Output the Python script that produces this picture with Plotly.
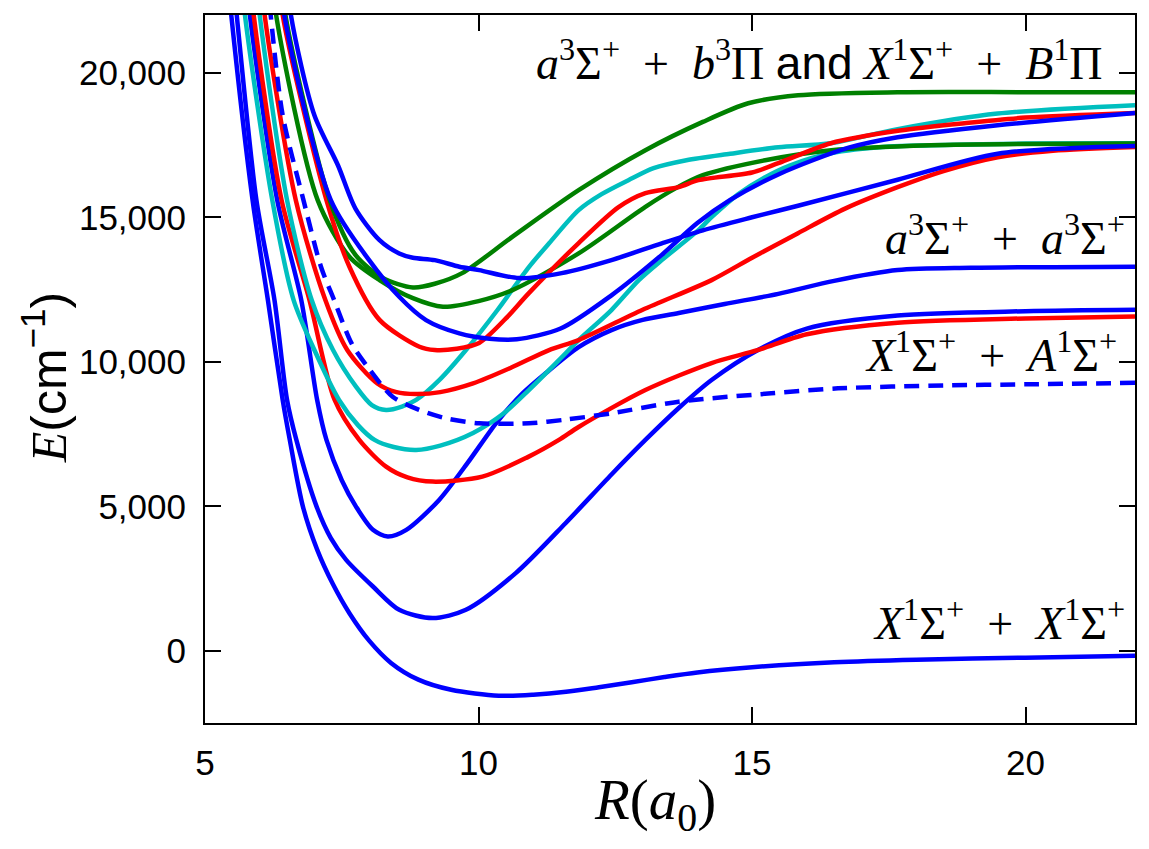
import plotly.graph_objects as go

# ---------------- data (R in a0, E in cm^-1) ----------------
# X1S+ + X1S+ ground curve (blue)
A_R = [5.38, 5.48, 5.87, 6.15, 6.42, 6.55, 6.79, 7.05, 7.34, 7.64, 8.0, 8.4, 8.9, 9.5, 10.37, 11.0, 11.6, 12.2, 12.8, 13.4, 14.0, 15.0, 16.5, 18.0, 20.0, 22.0]
A_E = [24000, 22000, 15593, 12135, 8678, 7295, 4988, 3500, 2300, 1300, 350, -420, -1000, -1350, -1556, -1520, -1420, -1260, -1090, -910, -750, -570, -400, -310, -240, -175]

# blue, minimum ~1100
B_R = [5.48, 5.58, 5.94, 6.27, 6.5, 6.67, 7.04, 7.3, 7.58, 8.07, 8.55, 9.16, 9.77, 10.68, 11.59, 12.43, 13.05, 13.66, 14.26, 15.1, 16.0, 17.66, 20.0, 22.0]
B_E = [24000, 22000, 15593, 12135, 8678, 7295, 4988, 3900, 3146, 2223, 1417, 1130, 1417, 2686, 4414, 6100, 7295, 8400, 9369, 10400, 11150, 11600, 11750, 11800]

# blue, minimum ~4000
C_R = [5.72, 5.82, 6.32, 6.76, 7.05, 7.22, 7.5, 7.76, 8.07, 8.34, 8.68, 9.28, 9.8, 10.32, 10.8, 11.23, 11.83, 12.43, 13.0, 13.66, 14.5, 15.48, 16.5, 17.66, 19.0, 22.0]
C_E = [24000, 22000, 15593, 12135, 8678, 7295, 5900, 4988, 4183, 3952, 4183, 5220, 6500, 7871, 8900, 9611, 10510, 11098, 11450, 11685, 12000, 12350, 12800, 13172, 13250, 13290]

# red, minimum ~5850
D_R = [5.79, 5.89, 6.40, 6.91, 7.37, 7.82, 8.31, 8.7, 9.16, 10.07, 10.9, 11.47, 11.83, 13.05, 14.26, 15.1, 16.0, 17.66, 20.0, 22.0]
D_E = [24000, 22000, 15593, 12135, 8678, 7295, 6371, 6000, 5853, 6026, 6700, 7295, 7744, 9023, 9957, 10400, 10950, 11350, 11500, 11570]

# cyan, minimum ~6950
F_R = [5.63, 5.73, 6.23, 6.62, 7.0, 7.45, 7.8, 8.1, 8.45, 8.86, 9.3, 9.9, 10.45, 10.92, 11.47, 11.83, 12.43, 12.93, 13.35, 14.02, 14.26, 14.75, 15.24, 15.7, 16.44, 17.5, 18.27, 20.0, 22.0]
F_E = [24000, 22000, 15593, 12135, 10406, 8678, 7800, 7295, 7050, 6950, 7100, 7537, 8200, 9023, 10060, 10752, 11790, 12826, 13518, 14555, 15005, 15800, 16388, 16800, 17217, 17450, 17494, 17550, 17565]

# cyan, minimum ~8330
G_R = [5.9, 6.0, 6.5, 6.95, 7.34, 7.76, 8.05, 8.31, 8.6, 8.86, 9.3, 9.77, 10.35, 10.92, 11.29, 11.83, 12.25, 12.74, 13.2, 13.8, 14.6, 15.48, 16.44, 17.66, 19.49, 22.0]
G_E = [24000, 22000, 15593, 12135, 10406, 9137, 8500, 8333, 8450, 8678, 9400, 10406, 11800, 13276, 14100, 15247, 15800, 16284, 16700, 16975, 17200, 17424, 17563, 18050, 18589, 18880]

# red, minimum ~8880
H_R = [5.99, 6.09, 6.66, 7.2, 7.6, 8.15, 8.5, 8.86, 9.3, 9.9, 10.6, 11.29, 11.83, 13.0, 14.26, 15.0, 15.84, 16.7, 17.66, 18.5, 19.49, 20.5, 22.0]
H_E = [24000, 22000, 15593, 12135, 10406, 9250, 8950, 8885, 8950, 9250, 9800, 10406, 10752, 11800, 12826, 13600, 14451, 15300, 16042, 16600, 17079, 17300, 17430]

# dashed blue, minimum ~7870
I_R = [6.1, 6.2, 6.42, 6.80, 7.12, 7.36, 7.68, 7.97, 8.43, 8.92, 9.40, 10.01, 10.92, 11.6, 12.43, 13.66, 15.35, 16.57, 18.5, 20.0, 22.0]
I_E = [24000, 22000, 18531, 15593, 13288, 12135, 10637, 9829, 8792, 8333, 8045, 7871, 7871, 8000, 8218, 8620, 8908, 9080, 9180, 9220, 9270]

# green, minimum ~11900
J_R = [6.2, 6.3, 7.06, 7.64, 8.19, 8.8, 9.35, 10.0, 10.62, 11.83, 13.05, 13.6, 14.1, 15.24, 16.45, 18.27, 20.0, 22.0]
J_E = [24000, 22000, 15593, 13634, 12826, 12200, 11904, 12100, 12480, 13749, 15361, 16000, 16457, 16975, 17321, 17494, 17540, 17550]

# red, minimum ~10400
K_R = [6.32, 6.42, 7.22, 7.64, 8.19, 8.92, 9.2, 9.6, 10.01, 10.5, 10.92, 11.83, 12.56, 13.05, 13.66, 14.02, 15.0, 15.48, 16.44, 17.7, 18.88, 20.0, 22.0]
K_E = [24000, 22000, 15593, 13288, 11450, 10521, 10406, 10450, 10648, 11500, 12377, 14106, 15350, 15834, 16042, 16284, 16550, 16872, 17563, 18000, 18254, 18450, 18610]

# green, minimum ~12580
L_R = [6.37, 6.47, 7.28, 7.75, 8.25, 8.8, 9.2, 9.70, 10.61, 11.83, 13.05, 14.1, 14.93, 15.84, 17.66, 20.0, 22.0]
L_E = [24000, 22000, 15593, 13700, 12900, 12574, 12700, 13068, 14313, 15938, 17321, 18300, 18946, 19222, 19326, 19330, 19330]

# blue, minimum ~10780
E_R = [6.35, 6.45, 7.3, 8.0, 8.55, 9.04, 9.65, 10.2, 10.7, 11.5, 12.43, 13.35, 14.0, 14.6, 15.5, 16.75, 17.66, 19.49, 22.0]
E_E = [24000, 22000, 15593, 13516, 12249, 11443, 10983, 10800, 10780, 11150, 12300, 13700, 14800, 15600, 16500, 17400, 17770, 18185, 18610]

# blue, minimum ~12900 with shoulder
M_R = [6.47, 6.57, 7.0, 7.43, 7.75, 8.19, 8.55, 8.8, 9.2, 9.65, 10.01, 10.74, 11.52, 12.43, 13.35, 14.1, 15.0, 15.84, 17.66, 19.49, 22.0]
M_E = [24000, 22000, 18531, 16800, 15300, 14209, 13749, 13600, 13518, 13288, 13172, 12895, 13068, 13518, 14100, 14550, 15000, 15400, 16300, 17200, 17470]

BLUE, RED, GREEN, CYAN = "#0000ff", "#ff0000", "#008000", "#00bfbf"

curves = [
    (A_R, A_E, BLUE, "solid"),
    (B_R, B_E, BLUE, "solid"),
    (C_R, C_E, BLUE, "solid"),
    (D_R, D_E, RED, "solid"),
    (F_R, F_E, CYAN, "solid"),
    (G_R, G_E, CYAN, "solid"),
    (H_R, H_E, RED, "solid"),
    (I_R, I_E, BLUE, "15px,9px"),
    (J_R, J_E, GREEN, "solid"),
    (K_R, K_E, RED, "solid"),
    (L_R, L_E, GREEN, "solid"),
    (E_R, E_E, BLUE, "solid"),
    (M_R, M_E, BLUE, "solid"),
]

fig = go.Figure()
for r, e, col, dash in curves:
    fig.add_trace(go.Scatter(x=r, y=e, mode="lines",
                             line=dict(color=col, width=4.5, dash=dash, shape="spline", smoothing=0.8),
                             showlegend=False, hoverinfo="skip"))

SERIF = "Liberation Serif"
SANS = "Liberation Sans"

axis_common = dict(showline=True, linecolor="black", linewidth=2, mirror="ticks",
                   ticks="inside", ticklen=16, tickwidth=2, tickcolor="black",
                   showgrid=False, zeroline=False,
                   tickfont=dict(family=SANS, size=35, color="black"))

fig.update_xaxes(range=[5, 22], tickvals=[5, 10, 15, 20], ticklabelstandoff=8, **axis_common)
fig.update_yaxes(range=[-2500, 22000], tickvals=[0, 5000, 10000, 15000, 20000],
                 tickformat=",d", ticklabelstandoff=10, **axis_common)

sp = "\u2002"
labels = [
    ("<i>a</i><sup>3</sup>Σ<sup>+</sup>" + sp + "+" + sp + "<i>b</i><sup>3</sup>Π "
     "<span style='font-family:Liberation Sans'>and</span> "
     "<i>X</i><sup>1</sup>Σ<sup>+</sup>" + sp + "+" + sp + "<i>B</i><sup>1</sup>Π", 21.45, 20450),
    ("<i>a</i><sup>3</sup>Σ<sup>+</sup>" + sp + "+" + sp + "<i>a</i><sup>3</sup>Σ<sup>+</sup>", 21.85, 14400),
    ("<i>X</i><sup>1</sup>Σ<sup>+</sup>" + sp + "+" + sp + "<i>A</i><sup>1</sup>Σ<sup>+</sup>", 21.7, 10345),
    ("<i>X</i><sup>1</sup>Σ<sup>+</sup>" + sp + "+" + sp + "<i>X</i><sup>1</sup>Σ<sup>+</sup>", 21.85, 1070),
]
for txt, x, y in labels:
    fig.add_annotation(x=x, y=y, xref="x", yref="y", text=txt, showarrow=False,
                       xanchor="right", yanchor="middle",
                       font=dict(family=SERIF, size=46, color="black"))

# axis titles
fig.add_annotation(xref="paper", yref="paper", x=-0.172, y=0.487,
                   text="<span style='font-family:Liberation Serif'><i>E</i></span>(cm<sup>−1</sup>)",
                   textangle=-90, showarrow=False, xanchor="center", yanchor="middle",
                   font=dict(family=SANS, size=50, color="black"))
fig.add_annotation(xref="x", yref="paper", x=13.23, y=-0.115,
                   text="<i>R</i>(<i>a</i><sub>0</sub>)",
                   showarrow=False, xanchor="center", yanchor="middle",
                   font=dict(family=SERIF, size=57, color="black"))

fig.update_layout(width=1149, height=849,
                  margin=dict(l=205, r=14, t=15, b=126),
                  paper_bgcolor="white", plot_bgcolor="white")

fig.write_html("out.html")
